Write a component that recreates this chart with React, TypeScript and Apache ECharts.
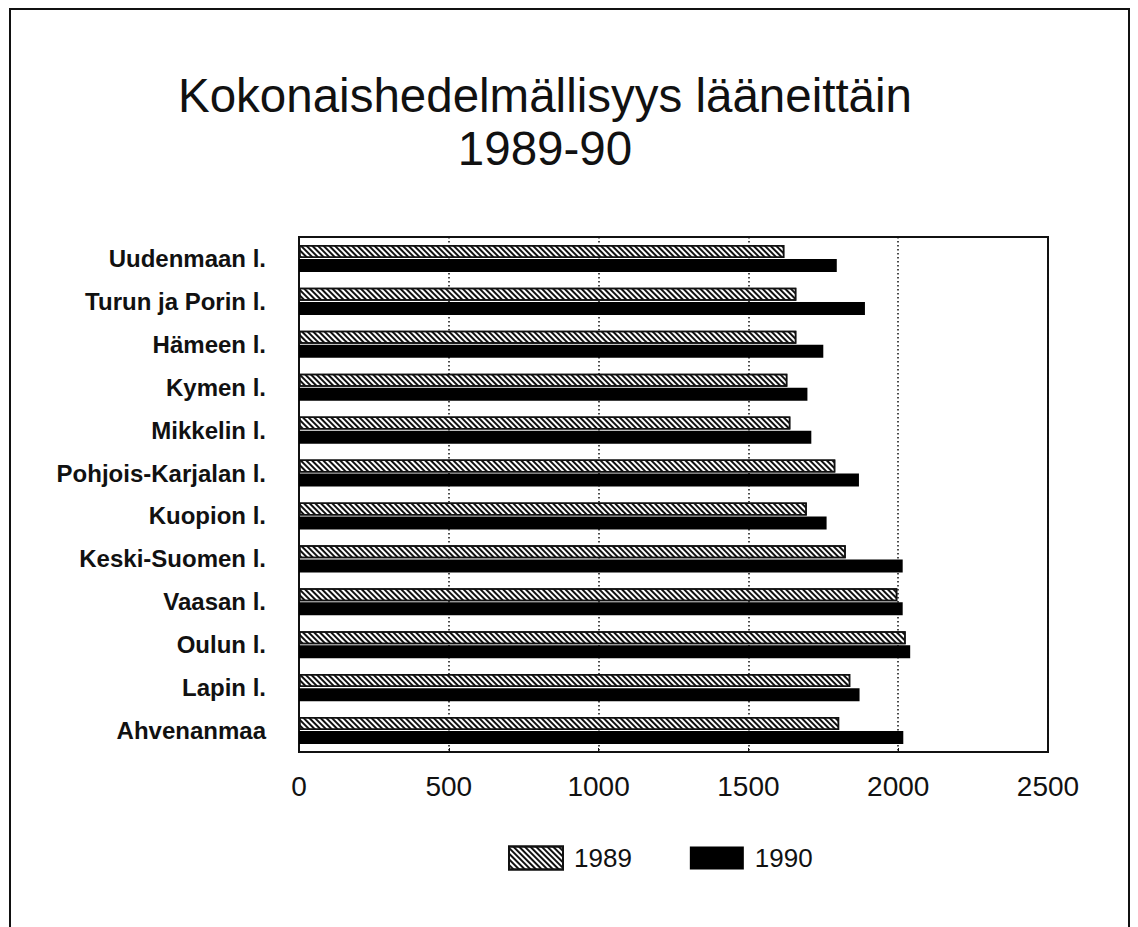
import React, { useEffect, useRef } from "react";
import * as echarts from "echarts";

const categories = [
  "Uudenmaan l.",
  "Turun ja Porin l.",
  "Hämeen l.",
  "Kymen l.",
  "Mikkelin l.",
  "Pohjois-Karjalan l.",
  "Kuopion l.",
  "Keski-Suomen l.",
  "Vaasan l.",
  "Oulun l.",
  "Lapin l.",
  "Ahvenanmaa",
];
const values1989 = [1620, 1660, 1660, 1630, 1640, 1790, 1695, 1825, 1997, 2025, 1840, 1803];
const values1990 = [1795, 1889, 1750, 1697, 1710, 1869, 1761, 2015, 2015, 2040, 1871, 2017];
const xTicks = [0, 500, 1000, 1500, 2000, 2500];
const titleLine1 = "Kokonaishedelmällisyys lääneittäin";
const titleLine2 = "1989-90";

const FONT = "'Liberation Sans', Arial, Helvetica, sans-serif";

export default function App() {
  const ref = useRef<HTMLDivElement>(null);
  useEffect(() => {
    document.body.style.margin = "0";
    const chart = echarts.init(ref.current!, null, { renderer: "svg" });
    const hatch = {
      symbol: "rect",
      symbolSize: 1,
      dashArrayX: [1, 0],
      dashArrayY: [1.5, 1.3],
      rotation: Math.PI / 4,
      color: "#111",
    };
    chart.setOption({
      animation: false,
      backgroundColor: "#fff",
      title: [
        {
          text: titleLine1 + "\n" + titleLine2,
          left: 540,
          top: 64,
          textAlign: "center",
          textStyle: {
            fontFamily: FONT,
            fontSize: 47.5,
            fontWeight: "normal",
            color: "#111",
            lineHeight: 53,
          },
        },
      ],
      graphic: [
        {
          type: "rect",
          shape: { x: 10, y: 9, width: 1119, height: 1000 },
          style: { fill: "none", stroke: "#111", lineWidth: 2 },
          silent: true,
        },
      ],
      legend: {
        left: 503,
        top: 840,
        itemWidth: 54,
        itemHeight: 23,
        itemGap: 58,
        icon: "rect",
        textStyle: {
          fontFamily: FONT,
          fontSize: 26,
          color: "#111",
          padding: [0, 0, 0, 6],
        },
        data: ["1989", "1990"],
      },
      grid: {
        left: 299,
        right: 90,
        top: 237,
        bottom: 175,
        show: true,
        borderColor: "#111",
        borderWidth: 2,
        backgroundColor: "transparent",
      },
      xAxis: {
        type: "value",
        min: xTicks[0],
        max: xTicks[xTicks.length - 1],
        interval: 500,
        axisLine: { show: true, lineStyle: { color: "#111", width: 2 } },
        axisTick: { show: true, inside: true, length: 4, lineStyle: { color: "#111" } },
        axisLabel: {
          fontFamily: FONT,
          fontSize: 28,
          color: "#111",
          margin: 20,
          formatter: (v: number) => String(v),
        },
        splitLine: {
          show: true,
          lineStyle: { color: "#111", width: 1.5, type: [1.5, 2.5] },
        },
      },
      yAxis: {
        type: "category",
        data: categories,
        inverse: true,
        axisLine: { show: true, lineStyle: { color: "#111", width: 2 } },
        axisTick: { show: false },
        axisLabel: {
          fontFamily: FONT,
          fontSize: 24,
          fontWeight: "bold",
          color: "#111",
          margin: 33,
        },
        splitLine: { show: false },
      },
      series: [
        {
          name: "1989",
          type: "bar",
          data: values1989,
          barWidth: 13,
          barGap: "8%",
          itemStyle: {
            color: "#fff",
            borderColor: "#111",
            borderWidth: 1.5,
            decal: hatch,
          },
        },
        {
          name: "1990",
          type: "bar",
          data: values1990,
          barWidth: 13,
          barGap: "8%",
          itemStyle: { color: "#000" },
        },
      ],
    });
    return () => chart.dispose();
  }, []);
  return <div ref={ref} style={{ width: 1138, height: 927 }} />;
}
